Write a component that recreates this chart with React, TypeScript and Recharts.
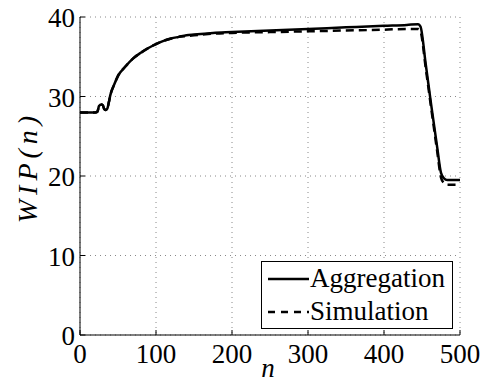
import React from 'react';
import { LineChart, Line, XAxis, YAxis, CartesianGrid, Legend } from 'recharts';

// step index n
const nValues = [
  0, 10, 20, 23, 25, 28, 30, 32, 34, 36, 38, 40, 45, 50, 60, 70, 80, 90, 100, 110, 120, 130, 140, 150,
  175, 200, 250, 300, 350, 400, 430, 445, 448, 455, 462, 470, 475, 479, 483, 490, 500,
];

const aggregation = [
  28.0, 28.0, 28.0, 28.1, 28.8, 29.0, 28.9, 28.4, 28.3, 28.5, 29.3, 30.2, 31.5, 32.6, 33.8, 34.8, 35.5, 36.1, 36.6, 37.0, 37.3, 37.5, 37.7, 37.8,
  38.0, 38.1, 38.3, 38.5, 38.7, 38.9, 39.0, 39.1, 38.8, 34.0, 29.0, 23.6, 20.4, 19.7, 19.5, 19.5, 19.5,
];

const simulation = [
  28.0, 28.0, 28.0, 28.1, 28.8, 29.0, 28.9, 28.4, 28.3, 28.5, 29.3, 30.2, 31.5, 32.6, 33.8, 34.8, 35.5, 36.1, 36.6, 37.0, 37.3, 37.5, 37.6, 37.7,
  37.9, 38.0, 38.1, 38.2, 38.3, 38.4, 38.5, 38.5, 38.2, 33.5, 28.6, 23.1, 19.8, 19.1, 18.9, 18.9, 18.9,
];

const xTicks = [0, 100, 200, 300, 400, 500];
const yTicks = [0, 10, 20, 30, 40];

const data = nValues.map((n, i) => ({ n, aggregation: aggregation[i], simulation: simulation[i] }));

const FONT = "'Times New Roman', Times, Tinos, 'Liberation Serif', 'DejaVu Serif', serif";

const BottomTick = (props: any) => {
  const { x, y, payload } = props;
  return (
    <g>
      <line x1={x} x2={x} y1={y} y2={y - 5} stroke="#000" />
      <text x={x} y={y + 28} textAnchor="middle" style={{ fontFamily: FONT }} fontSize={27} fill="#000">
        {payload.value}
      </text>
    </g>
  );
};

const LeftTick = (props: any) => {
  const { x, y, payload } = props;
  return (
    <g>
      <line x1={x} x2={x + 5} y1={y} y2={y} stroke="#000" />
      <text x={x - 5} y={y + 10} textAnchor="end" style={{ fontFamily: FONT }} fontSize={27} fill="#000">
        {payload.value}
      </text>
    </g>
  );
};

const TopTick = (props: any) => {
  const { x, y } = props;
  return <line x1={x} x2={x} y1={y} y2={y + 5} stroke="#000" />;
};

const RightTick = (props: any) => {
  const { x, y } = props;
  return <line x1={x} x2={x - 5} y1={y} y2={y} stroke="#000" />;
};

const LegendBox = () => (
  <div
    style={{
      width: 192,
      height: 68,
      boxSizing: 'border-box',
      border: '1px solid #000',
      background: '#fff',
      fontFamily: FONT,
      fontSize: 27,
      color: '#000',
    }}
  >
    {[
      { name: 'Aggregation', dash: undefined },
      { name: 'Simulation', dash: '7 6' },
    ].map((item) => (
      <div key={item.name} style={{ display: 'flex', alignItems: 'center', height: 33, paddingLeft: 6 }}>
        <svg width={41} height={10} style={{ marginRight: 1 }}>
          <line x1={0} x2={41} y1={5} y2={5} stroke="#000" strokeWidth={2.5} strokeDasharray={item.dash} />
        </svg>
        <span style={{ lineHeight: '33px' }}>{item.name}</span>
      </div>
    ))}
  </div>
);

const App: React.FC = () => {
  return (
    <div style={{ position: 'absolute', left: 0, top: 0, width: 485, height: 383, background: '#fff' }}>
      <LineChart width={485} height={383} data={data} margin={{ top: 17, right: 25, left: 0, bottom: 0 }}>
        <CartesianGrid stroke="#888" strokeDasharray="1 4" />
        <XAxis
          dataKey="n"
          type="number"
          domain={[0, 500]}
          ticks={xTicks}
          interval={0}
          height={48}
          tickSize={0}
          tickMargin={0}
          tickLine={false}
          axisLine={{ stroke: '#000' }}
          tick={<BottomTick />}
          label={(p: any) => (
            <text x={268} y={377} textAnchor="middle" style={{ fontFamily: FONT, fontStyle: 'italic' }} fontSize={27} fill="#000">
              n
            </text>
          )}
        />
        <XAxis
          xAxisId="top"
          orientation="top"
          dataKey="n"
          type="number"
          domain={[0, 500]}
          ticks={xTicks}
          interval={0}
          height={0}
          tickSize={0}
          tickMargin={0}
          tickLine={false}
          axisLine={{ stroke: '#000' }}
          tick={<TopTick />}
        />
        <YAxis
          type="number"
          domain={[0, 40]}
          ticks={yTicks}
          interval={0}
          width={80}
          tickSize={0}
          tickMargin={0}
          tickLine={false}
          axisLine={{ stroke: '#000' }}
          tick={<LeftTick />}
          label={(p: any) => (
            <text
              x={37}
              y={167}
              transform="rotate(-90 37 167)"
              textAnchor="middle"
              style={{ fontFamily: FONT, fontStyle: 'italic', letterSpacing: 5 }}
              fontSize={28}
              fill="#000"
            >
              WIP(n)
            </text>
          )}
        />
        <YAxis
          yAxisId="right"
          orientation="right"
          type="number"
          domain={[0, 40]}
          ticks={yTicks}
          interval={0}
          width={0}
          tickSize={0}
          tickMargin={0}
          tickLine={false}
          axisLine={{ stroke: '#000' }}
          tick={<RightTick />}
        />
        <Legend
          layout="vertical"
          align="center"
          verticalAlign="middle"
          content={<LegendBox />}
          wrapperStyle={{ left: 261, top: 261, width: 192, height: 68 }}
        />
        <Line
          type="monotone"
          dataKey="simulation"
          name="Simulation"
          stroke="#000"
          strokeWidth={2.5}
          strokeDasharray="8 5"
          dot={false}
          isAnimationActive={false}
        />
        <Line
          type="monotone"
          dataKey="aggregation"
          name="Aggregation"
          stroke="#000"
          strokeWidth={2.5}
          dot={false}
          isAnimationActive={false}
        />
      </LineChart>
    </div>
  );
};

export default App;
